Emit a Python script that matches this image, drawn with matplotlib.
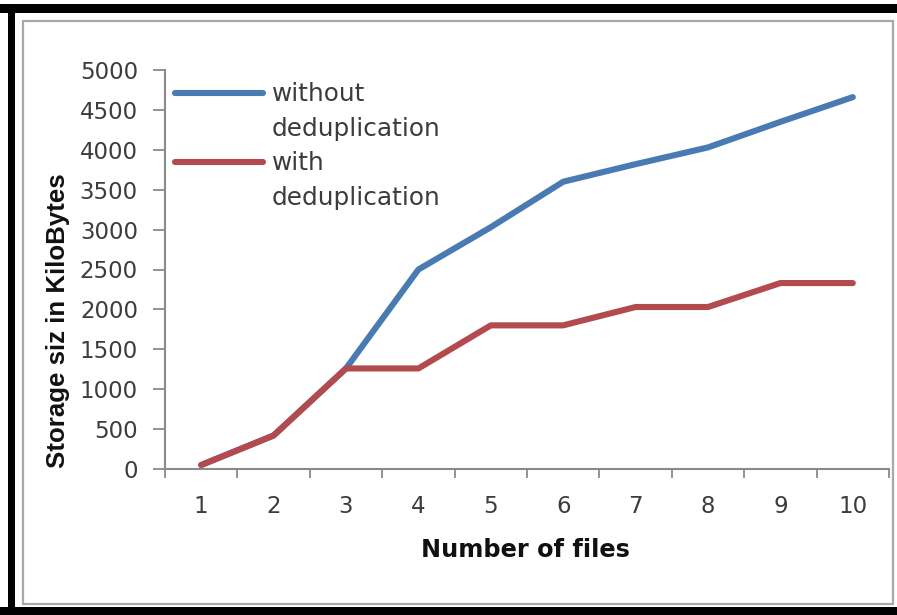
import matplotlib
matplotlib.use("Agg")
import matplotlib.pyplot as plt
from matplotlib.patches import Rectangle
from matplotlib.lines import Line2D

# ── Data ────────────────────────────────────────────────────────────
files = [1, 2, 3, 4, 5, 6, 7, 8, 9, 10]
without_dedup = [50, 420, 1260, 2500, 3030, 3600, 3820, 4030, 4350, 4660]
with_dedup = [50, 420, 1260, 1260, 1800, 1800, 2030, 2030, 2330, 2330]
series_names = ["without\ndeduplication", "with\ndeduplication"]
y_ticks = [0, 500, 1000, 1500, 2000, 2500, 3000, 3500, 4000, 4500, 5000]

BLUE = "#4A7AB2"
RED = "#B34A4E"
AXIS_GRAY = "#8A8A8A"
TEXT_GRAY = "#3C3C3C"

W, H = 897, 615


def fx(x):
    return x / W


def fy(y):
    return 1 - y / H


fig = plt.figure(figsize=(W / 100, H / 100), dpi=100)
fig.patch.set_facecolor("white")

# outer frame: black bands + thin gray inner border
for x0, y0, x1, y1 in [(0, 4, W, 13), (8, 4, 15, H), (0, 607, W, H)]:
    fig.add_artist(Rectangle((fx(x0), fy(y1)), fx(x1 - x0), (y1 - y0) / H,
                             transform=fig.transFigure, color="black", lw=0))
fig.add_artist(Rectangle((fx(22.5), fy(604)), fx(893 - 22.5), (604 - 20.5) / H,
                         transform=fig.transFigure, fill=False,
                         edgecolor="#A8A8A8", lw=1.6))

ax = fig.add_axes([fx(165), fy(469), fx(889 - 165), (469 - 70) / H])

ax.plot(files, without_dedup, color=BLUE, lw=4.4,
        solid_capstyle="round", solid_joinstyle="round")
ax.plot(files, with_dedup, color=RED, lw=4.4,
        solid_capstyle="round", solid_joinstyle="round")

ax.set_xlim(0.5, 10.5)
ax.set_ylim(0, 5000)

for side in ["top", "right"]:
    ax.spines[side].set_visible(False)
for side in ["left", "bottom"]:
    ax.spines[side].set_color(AXIS_GRAY)
    ax.spines[side].set_linewidth(1.5)

# y axis
ax.set_yticks(y_ticks)
ax.tick_params(axis="y", length=8.5, width=1.3, color=AXIS_GRAY,
               labelsize=16.5, labelcolor=TEXT_GRAY, pad=11)

# x axis: ticks between categories, labels centred on categories
ax.set_xticks([f - 0.5 for f in files] + [files[-1] + 0.5])
ax.set_xticklabels([])
ax.set_xticks(files, minor=True)
ax.set_xticklabels([str(f) for f in files], minor=True)
ax.tick_params(axis="x", which="major", length=6.5, width=1.3, color=AXIS_GRAY)
ax.tick_params(axis="x", which="minor", length=0, labelsize=16.5,
               labelcolor=TEXT_GRAY, pad=18.5)

ax.set_xlabel("Number of files", fontsize=17.3, fontweight="bold",
              family="DejaVu Sans", color="#111111", va="center")
ax.xaxis.set_label_coords(0.5 - 2 / 724, (469 - 550) / 399)
ax.set_ylabel("Storage siz in KiloBytes", fontsize=18.6, fontweight="bold",
              family="Liberation Sans", color="#111111", va="center")
ax.yaxis.set_label_coords((58 - 165) / 724, (469 - 321) / 399)

# legend, handle level with the first line of each label
for i, (name, col) in enumerate(zip(series_names, [BLUE, RED])):
    yc = 93 + i * 69
    fig.add_artist(Line2D([fx(175), fx(263)], [fy(yc), fy(yc)],
                          transform=fig.transFigure, color=col, lw=4.4,
                          solid_capstyle="round"))
    fig.text(fx(272), fy(yc - 11), name, fontsize=17.8, color=TEXT_GRAY,
             ha="left", va="top", linespacing=1.6)

fig.savefig("out.png", dpi=100)
